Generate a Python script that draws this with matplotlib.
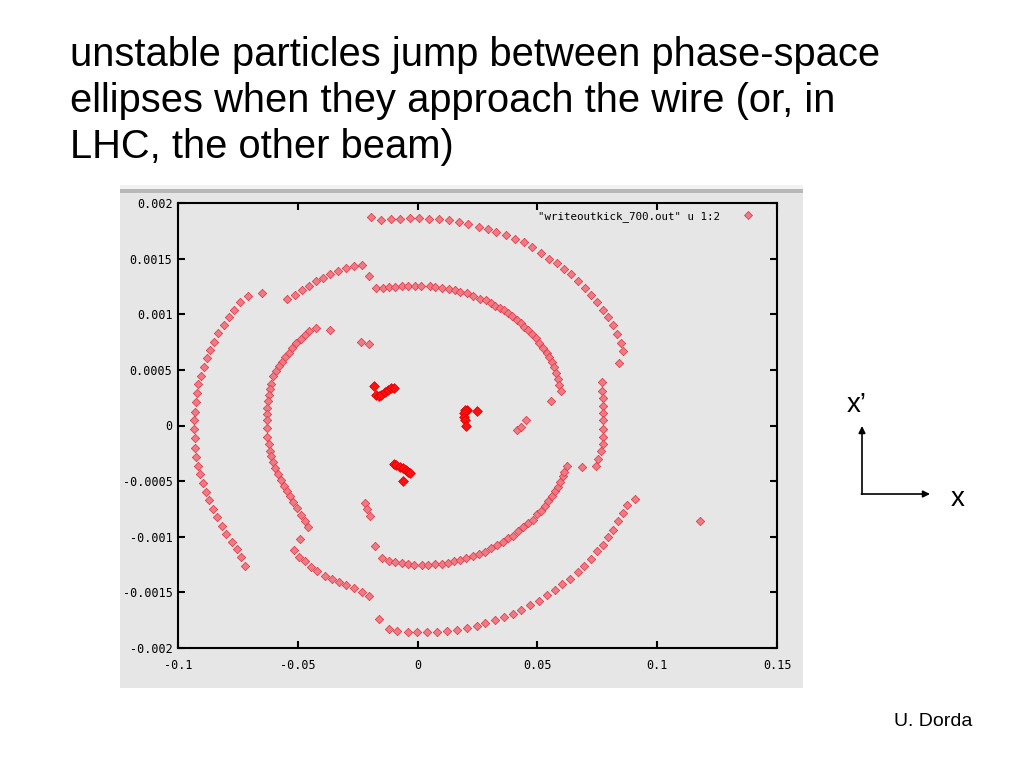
import matplotlib.pyplot as plt
from matplotlib.patches import Rectangle
from matplotlib.lines import Line2D

# outer ring, left side
outer_left_x = [-0.0651, -0.0707, -0.0741, -0.0766, -0.0789, -0.0808, -0.0831, -0.0849, -0.0867, -0.0879,
                -0.0891, -0.0902, -0.0915, -0.0919, -0.0923, -0.0929, -0.0933, -0.0933, -0.0929, -0.0928,
                -0.0923, -0.0915, -0.0907, -0.0895, -0.0883, -0.0869, -0.0854, -0.0837, -0.0817, -0.0799,
                -0.0775, -0.0754, -0.0735, -0.0721]
outer_left_y = [0.001187, 0.001166, 0.001106, 0.00104, 0.000971, 0.000899, 0.000831, 0.000753, 0.000681, 0.000606,
                0.000525, 0.000447, 0.000372, 0.000291, 0.000213, 0.000123, 0.000045, -0.000032, -0.000108, -0.000203,
                -0.000279, -0.00036, -0.000437, -0.000518, -0.000596, -0.000674, -0.000755, -0.000824, -0.000902, -0.000974,
                -0.001043, -0.001112, -0.001181, -0.001259]

# middle ring, upper left piece
mid_tl_x = [-0.0545, -0.0512, -0.0481, -0.0452, -0.0423, -0.0393, -0.0364, -0.0332, -0.0298, -0.0266, -0.0233, -0.0204]
mid_tl_y = [0.001137, 0.001175, 0.001214, 0.001256, 0.001299, 0.001326, 0.001362, 0.001385, 0.001415, 0.001433, 0.001442, 0.001343]

# outer ring, top and right
outer_top_x = [-0.0194, -0.0154, -0.0113, -0.0074, -0.0033, 0.0007, 0.0049, 0.0089, 0.0131, 0.0173,
               0.0210, 0.0255, 0.0292, 0.0329, 0.0368, 0.0406, 0.0444, 0.0478, 0.0513, 0.0548,
               0.0580, 0.0612, 0.0641, 0.0671, 0.0699, 0.0724, 0.0749, 0.0773, 0.0796, 0.0816,
               0.0833, 0.0851, 0.0859, 0.0842]
outer_top_y = [0.001871, 0.001847, 0.001856, 0.001859, 0.001868, 0.001865, 0.001856, 0.001856, 0.001847, 0.001826,
               0.001811, 0.001784, 0.001766, 0.001739, 0.001712, 0.001679, 0.001646, 0.001601, 0.00155, 0.001499,
               0.00146, 0.001406, 0.001362, 0.001301, 0.001236, 0.001169, 0.001106, 0.00104, 0.000975, 0.000899,
               0.000825, 0.000746, 0.000666, 0.000558]

# middle ring, top and right
mid_top_x = [-0.0173, -0.0145, -0.0121, -0.0095, -0.0064, -0.0039, -0.0011, 0.0015, 0.0050, 0.0071,
             0.0103, 0.0131, 0.0155, 0.0179, 0.0208, 0.0231, 0.0259, 0.0285, 0.0305, 0.0325,
             0.0343, 0.0361, 0.0379, 0.0396, 0.0413, 0.0430, 0.0446, 0.0462, 0.0478, 0.0495,
             0.0508, 0.0524, 0.0538, 0.0549, 0.0559, 0.0569, 0.0577, 0.0586, 0.0591, 0.0597, 0.0556]
mid_top_y = [0.001236, 0.001232, 0.001241, 0.001245, 0.001254, 0.001256, 0.001254, 0.001254, 0.001256, 0.001247,
             0.001236, 0.001229, 0.00122, 0.0012, 0.001187, 0.001166, 0.001139, 0.001124, 0.0011, 0.001076,
             0.001055, 0.001034, 0.001011, 0.00098, 0.00095, 0.000921, 0.000888, 0.000858, 0.000825, 0.000789,
             0.000741, 0.000696, 0.000656, 0.000612, 0.000567, 0.000522, 0.000471, 0.00042, 0.000366, 0.000312, 0.000216]

# outer ring, right edge
outer_right_x = [0.0769, 0.0769, 0.0773, 0.0773, 0.0775, 0.0775, 0.0775, 0.0775, 0.0773, 0.0766, 0.0754, 0.0745, 0.0686]
outer_right_y = [0.000393, 0.000312, 0.000243, 0.000177, 0.000112, 0.000045, -0.000027, -0.000099, -0.000165,
                 -0.00023, -0.000299, -0.00036, -0.000369]

# middle ring, bottom
mid_bot_x = [-0.0176, -0.0149, -0.0121, -0.0093, -0.0066, -0.0039, -0.0013, 0.0017, 0.0045, 0.0071,
             0.0100, 0.0127, 0.0154, 0.0179, 0.0204, 0.0231, 0.0256, 0.0280, 0.0305, 0.0332,
             0.0356, 0.0379, 0.0399, 0.0420, 0.0439, 0.0460, 0.0480, 0.0499, 0.0516, 0.0531,
             0.0545, 0.0561, 0.0573, 0.0585, 0.0594, 0.0605, 0.0612, 0.0622]
mid_bot_y = [-0.001082, -0.001187, -0.00122, -0.001229, -0.001238, -0.001247, -0.001256, -0.001256, -0.00125, -0.001247,
             -0.001241, -0.001232, -0.00122, -0.001208, -0.001187, -0.001172, -0.001151, -0.001136, -0.001103, -0.001073,
             -0.001049, -0.001013, -0.000992, -0.000944, -0.000914, -0.000872, -0.000845, -0.000797, -0.000767, -0.000722,
             -0.000677, -0.000632, -0.000587, -0.000549, -0.000506, -0.00045, -0.000414, -0.00036]

# outer ring, bottom
outer_bot_x = [-0.0163, -0.0121, -0.0084, -0.0042, -0.0001, 0.0041, 0.0081, 0.0123, 0.0164, 0.0206,
               0.0246, 0.0283, 0.0322, 0.0360, 0.0397, 0.0432, 0.0469, 0.0506, 0.0538, 0.0572,
               0.0604, 0.0636, 0.0668, 0.0695, 0.0724, 0.0748, 0.0773, 0.0796, 0.0815, 0.0836,
               0.0856, 0.0874, 0.0908, 0.1177]
outer_bot_y = [-0.001741, -0.001831, -0.001849, -0.001858, -0.001858, -0.001858, -0.001858, -0.001849, -0.00184, -0.001822,
               -0.001799, -0.001777, -0.00175, -0.00172, -0.001691, -0.001657, -0.001612, -0.001577, -0.001525, -0.001478,
               -0.001426, -0.001376, -0.001316, -0.001262, -0.001199, -0.00113, -0.00107, -0.001004, -0.000935, -0.00086,
               -0.000785, -0.000719, -0.000659, -0.000854]

# middle ring, lower left
mid_bl_x = [-0.0490, -0.0516, -0.0497, -0.0470, -0.0446, -0.0418, -0.0388, -0.0359, -0.0328, -0.0297, -0.0267, -0.0234, -0.0204]
mid_bl_y = [-0.001022, -0.001118, -0.001181, -0.001217, -0.001268, -0.001309, -0.001349, -0.001376, -0.001406,
            -0.001435, -0.001462, -0.001498, -0.001531]

# inner ring, left side
inner_x = [-0.0364, -0.0424, -0.0452, -0.0470, -0.0488, -0.0508, -0.0526, -0.0538, -0.0554, -0.0566,
           -0.0577, -0.0591, -0.0602, -0.0610, -0.0616, -0.0622, -0.0625, -0.0628, -0.0628, -0.0628,
           -0.0628, -0.0628, -0.0622, -0.0616, -0.0611, -0.0605, -0.0595, -0.0582, -0.0570, -0.0558,
           -0.0547, -0.0534, -0.0519, -0.0503, -0.0487, -0.0472, -0.0456]
inner_y = [0.000861, 0.000876, 0.000845, 0.000816, 0.000777, 0.000741, 0.000696, 0.000656, 0.000612, 0.000573,
           0.000531, 0.000489, 0.000447, 0.000375, 0.000324, 0.000276, 0.000216, 0.000159, 0.000103, 0.000051,
           -0.000023, -0.000099, -0.000165, -0.000225, -0.000272, -0.000329, -0.000383, -0.000437, -0.000488, -0.00054,
           -0.00059, -0.000638, -0.000689, -0.000743, -0.000803, -0.000857, -0.000914]

# short stray pieces
stray_x = [-0.0236, -0.0204, 0.0413, 0.0430, 0.0452, -0.0219, -0.0212, -0.0198]
stray_y = [0.000753, 0.000735, -0.000039, -0.000009, 0.000045, -0.000698, -0.000752, -0.000812]

# stable particles near the centre
core_x = [-0.0180, -0.0173, -0.0162, -0.0152, -0.0138, -0.0124, -0.0110, -0.0100,
          0.0205, 0.0201, 0.0197, 0.0194, 0.0194, 0.0197, 0.0201, 0.0246,
          -0.0100, -0.0089, -0.0075, -0.0061, -0.0047, -0.0039, -0.0033, -0.0061]
core_y = [0.000351, 0.000276, 0.000267, 0.000276, 0.000297, 0.000321, 0.000333, 0.000339,
          0.000135, 0.00013, 0.000141, 0.000112, 0.000076, 0.000045, -0.000003, 0.000126,
          -0.000347, -0.000356, -0.000374, -0.000383, -0.000398, -0.000419, -0.000428, -0.000497]

xticks = [-0.1, -0.05, 0, 0.05, 0.1, 0.15]
xlabels = ['-0.1', '-0.05', '0', '0.05', '0.1', '0.15']
yticks = [-0.002, -0.0015, -0.001, -0.0005, 0, 0.0005, 0.001, 0.0015, 0.002]
ylabels = ['-0.002', '-0.0015', '-0.001', '-0.0005', '0', '0.0005', '0.001', '0.0015', '0.002']

W, H = 1024, 768
fig = plt.figure(figsize=(W / 100, H / 100), dpi=100)
fig.patch.set_facecolor('white')

def box(l, t, r, b):
    return [l / W, 1 - b / H, (r - l) / W, (b - t) / H]

# gnuplot window background
panel = fig.add_axes(box(120, 185, 803, 688))
panel.set_facecolor('#e6e6e6')
panel.set_xticks([])
panel.set_yticks([])
for s in panel.spines.values():
    s.set_visible(False)
panel.add_patch(Rectangle((0, 0.992), 1, 0.008, transform=panel.transAxes, color='#f2f2f2', lw=0))
panel.add_patch(Rectangle((0, 0.985), 1, 0.007, transform=panel.transAxes, color='#b8b8b8', lw=0))

ax = fig.add_axes(box(178, 203, 777, 648))
ax.set_facecolor('#e6e6e6')
mono = 'DejaVu Sans Mono'

pink = dict(marker='D', s=18, facecolor='#f07a84', edgecolor='#e2404f', linewidths=0.6)
for xs, ys in [(outer_left_x, outer_left_y), (mid_tl_x, mid_tl_y), (outer_top_x, outer_top_y),
               (mid_top_x, mid_top_y), (outer_right_x, outer_right_y), (mid_bot_x, mid_bot_y),
               (outer_bot_x, outer_bot_y), (mid_bl_x, mid_bl_y), (inner_x, inner_y), (stray_x, stray_y)]:
    ax.scatter(xs, ys, **pink)
ax.scatter(core_x, core_y, marker='D', s=24, facecolor='#ff1010', edgecolor='#e00000', linewidths=0.6)

ax.set_xlim(-0.1, 0.15)
ax.set_ylim(-0.002, 0.002)
ax.set_xticks(xticks)
ax.set_xticklabels(xlabels, family=mono, fontsize=8.5)
ax.set_yticks(yticks)
ax.set_yticklabels(ylabels, family=mono, fontsize=8.5)
ax.tick_params(direction='in', length=5, width=1.5, top=True, right=True)
ax.tick_params(axis='x', pad=8)
ax.tick_params(axis='y', pad=4)
for s in ax.spines.values():
    s.set_linewidth(1.5)

handle = Line2D([], [], ls='none', marker='D', markersize=4.3, markerfacecolor='#f07a84',
                markeredgecolor='#e2404f', markeredgewidth=0.6)
ax.legend([handle], ['"writeoutkick_700.out" u 1:2'], loc='upper right', frameon=False,
          markerfirst=False, prop={'family': mono, 'size': 7.8}, handletextpad=1.6,
          borderaxespad=0.0, bbox_to_anchor=(0.977, 0.9925))

fig.text(70 / W, 1 - 36 / H,
         'unstable particles jump between phase-space\n'
         'ellipses when they approach the wire (or, in\n'
         'LHC, the other beam)',
         family='Liberation Sans', fontsize=28.7, va='top', ha='left', linespacing=1.26)

# x / x' direction sketch
fig.add_artist(plt.Annotation('', xy=(862 / W, 1 - 426 / H), xytext=(862 / W, 1 - 494 / H),
                              xycoords='figure fraction',
                              arrowprops=dict(arrowstyle='-|>', lw=1.2, color='black',
                                              shrinkA=0, shrinkB=0, mutation_scale=10)))
fig.add_artist(plt.Annotation('', xy=(930 / W, 1 - 494 / H), xytext=(861.4 / W, 1 - 494 / H),
                              xycoords='figure fraction',
                              arrowprops=dict(arrowstyle='-|>', lw=1.2, color='black',
                                              shrinkA=0, shrinkB=0, mutation_scale=10)))
fig.text(857 / W, 1 - 405 / H, 'x\u2019', family='Liberation Sans', fontsize=20, ha='center', va='center')
fig.text(958 / W, 1 - 499 / H, 'x', family='Liberation Sans', fontsize=20, ha='center', va='center')

fig.text(972 / W, 1 - 722 / H, 'U. Dorda', family='Liberation Sans', fontsize=14, ha='right', va='center')

fig.savefig('out.png', dpi=100)
